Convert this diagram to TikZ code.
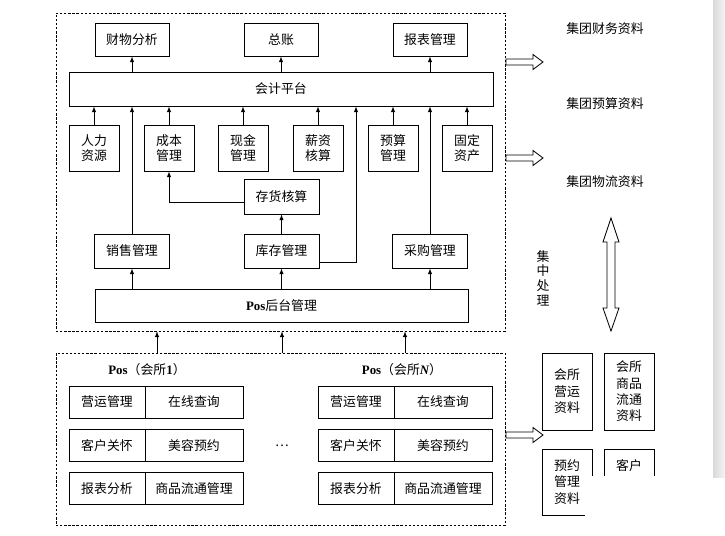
\documentclass[tikz,border=0pt]{standalone}
\usepackage{fontspec}
\newfontfamily\cjk{Noto Sans CJK SC}
\newfontfamily\latin{Liberation Serif}
\usetikzlibrary{calc, arrows.meta}
\tikzset{>=latex}
\tikzset{
  box/.style={draw, line width=0.7pt, inner sep=0pt, align=center,
    font=\cjk\fontsize{11}{12.5}\selectfont},
  topbox/.style={box, minimum width=2.22cm, minimum height=0.99cm},
  modbox/.style={box, minimum width=1.5cm, minimum height=1.38cm},
  midbox/.style={box, minimum width=2.25cm, minimum height=1.02cm},
  cellL/.style={box, minimum width=2.28cm, minimum height=0.96cm},
  cellR/.style={box, minimum width=2.94cm, minimum height=0.96cm},
  sidebox/.style={box, minimum width=1.5cm, font=\cjk\fontsize{11}{14}\selectfont},
  group/.style={draw, line width=0.5pt, dash pattern=on 2pt off 1.5pt,
    minimum width=13.47cm, inner sep=0pt},
  txt/.style={inner sep=1pt, align=center, font=\cjk\fontsize{11}{12.5}\selectfont},
  conn/.style={line width=0.7pt},
  hollow/.style={draw, line width=0.7pt, fill=white}
}
\begin{document}
\begin{tikzpicture}[x={(0.03cm,0cm)}, y={(0cm,-0.03cm)}]
  \useasboundingbox (0,0) rectangle (725,536);
  \shade[left color=gray!30, right color=gray!8] (713,0) rectangle (725,477);
  % dashed frames
  \node[group, minimum height=9.54cm] (up) at (280.5,172) {};
  \node[group, minimum height=5.16cm] (lw) at (280.5,439) {};
  % outputs
  \node[topbox] (cw) at (132,39.5) {财物分析};
  \node[topbox] (zz) at (281,39.5) {总账};
  \node[topbox] (bb) at (430,39.5) {报表管理};
  \node[box, minimum width=12.72cm, minimum height=1.02cm] (kj) at (281,89) {会计平台};
  % modules
  \node[modbox] (rl) at (94,148) {人力\\资源};
  \node[modbox] (cb) at (169,148) {成本\\管理};
  \node[modbox] (xj) at (243,148) {现金\\管理};
  \node[modbox] (xz) at (318,148) {薪资\\核算};
  \node[modbox] (ys) at (393,148) {预算\\管理};
  \node[modbox] (gd) at (467,148) {固定\\资产};
  \node[midbox, minimum height=1.05cm] (ch) at (281.5,196.5) {存货核算};
  \node[midbox] (xs) at (132,251) {销售管理};
  \node[midbox] (kc) at (281.5,251) {库存管理};
  \node[midbox] (cg) at (430,251) {采购管理};
  \node[box, minimum width=11.19cm, minimum height=0.99cm] (pb) at (281.5,305.5) {{\latin\bfseries Pos}后台管理};
  % connectors
  \foreach \n in {cw,zz,bb}
    \draw[conn,->] (kj.north -| \n) -- (\n.south);
  \foreach \n in {rl,cb,xj,xz,ys,gd,xs,cg}
    \draw[conn,->] (\n.north) -- (\n.north |- kj.south);
  \coordinate (kcx) at (356,262);
  \draw[conn,->] (kcx -| kc.east) -- (kcx) -- (kcx |- kj.south);
  \draw[conn,->] (kc.north) -- (ch.south);
  \draw[conn,->] ([yshift=-0.165cm]ch.west) -| (cb.south);
  \foreach \n in {xs,kc,cg}
    \draw[conn,->] (pb.north -| \n) -- (\n.south);
  \foreach \x in {157,282,405}
    \draw[conn,->] (lw.north -| \x,0) -- (up.south -| \x,0);
  % club terminals
  \node[txt] (p1) at (147,370) {{\latin\bfseries Pos}（会所{\latin\bfseries 1}）};
  \node[txt] (pn) at (402,370) {{\latin\bfseries Pos}（会所{\latin\bfseries\itshape N}）};
  \foreach \y/\a/\b [count=\i] in {402/营运管理/在线查询, 445.5/客户关怀/美容预约, 488.5/报表分析/商品流通管理} {
    \node[cellL] (la\i) at (107,\y) {\a};
    \node[cellR] (lb\i) at (194,\y) {\b};
    \node[cellL] (ra\i) at (356,\y) {\a};
    \node[cellR] (rb\i) at (443,\y) {\b};
  }
  \node[txt] (dots) at (282,446) {…};
  % group data
  \node[txt] (jc1) at (605,29) {集团财务资料};
  \node[txt] (jc2) at (605,104) {集团预算资料};
  \node[txt] (jc3) at (605,182) {集团物流资料};
  \node[txt] (jz) at (543,278) {集\\中\\处\\理};
  \foreach \y in {62,158,435}
    \draw[hollow] (506,\y-3) -- (533,\y-3) -- (533,\y-7.5) -- (543,\y) -- (533,\y+7.5)
      -- (533,\y+3) -- (506,\y+3) -- cycle;
  \draw[hollow] (607,242) -- (603,242) -- (611,218) -- (619,242) -- (615,242)
    -- (615,308) -- (619,308) -- (611,331) -- (603,308) -- (607,308) -- cycle;
  \node[sidebox, minimum height=2.31cm] (yy) at (567,391.5) {会所\\营运\\资料};
  \node[sidebox, minimum height=2.31cm] (lt) at (629,391.5) {会所\\商品\\流通\\资料};
  \node[sidebox, minimum height=1.98cm] (yd) at (567,482) {预约\\管理\\资料};
  \node[sidebox, minimum height=1.98cm] (kh) at (629,482) {客户\\\phantom{客户}\\\phantom{客户}};
  \fill[white] (585,476) rectangle (713,536);
\end{tikzpicture}
\end{document}
